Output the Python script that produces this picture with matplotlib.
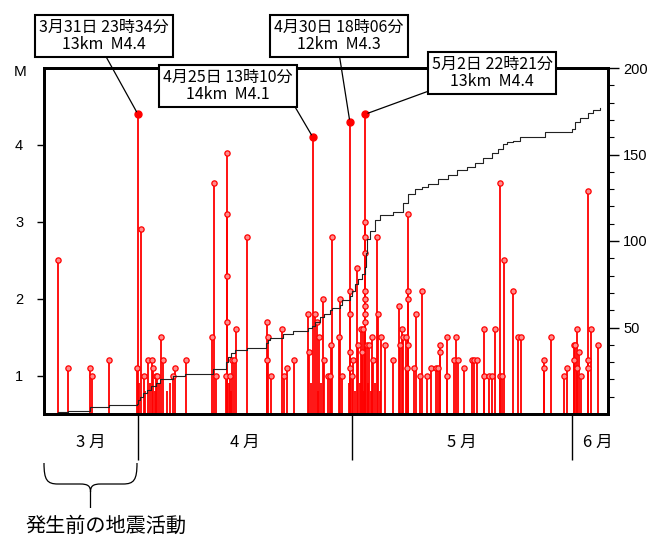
import numpy as np
import matplotlib.pyplot as plt
from matplotlib.path import Path
from matplotlib.patches import PathPatch

plt.rcParams['font.family'] = ['Liberation Sans', 'DejaVu Sans']
JP = ['Noto Sans CJK JP', 'DejaVu Sans']

# time axis: days counted from 3/1 00:00 (4/1 = 31, 5/1 = 61, 6/1 = 92)
ev_t = [19.81, 21.17, 24.26, 24.50, 26.88,
        30.86, 31.46, 31.88, 32.36, 32.92, 33.15, 33.53, 33.71, 34.19, 34.55, 35.96, 36.20, 37.70,
        41.44, 41.67, 41.96, 43.36, 43.50, 43.50, 43.50, 43.50, 43.92, 44.20, 44.44, 44.72, 46.27,
        49.08, 49.16, 49.30, 49.64, 51.27, 51.55, 51.97, 52.91, 54.83, 55.06, 55.82, 56.10, 56.42,
        56.94, 57.17, 57.73, 57.97, 58.11, 58.25, 59.19, 59.40, 59.61,
        60.75, 60.75, 60.75, 60.75, 61.01, 61.24, 61.72, 61.94, 62.28, 62.50, 62.64,
        62.93, 62.93, 62.93, 62.93, 62.93, 62.93, 62.93, 62.93, 63.12, 63.49, 63.82, 64.05, 64.53,
        64.75, 65.13, 65.69, 66.86,
        67.66, 67.80, 68.04, 68.26, 68.60, 68.74, 68.96, 68.96, 68.96, 68.96, 69.81, 70.04, 70.60,
        70.93, 71.55, 72.11, 72.81, 73.09, 73.35, 73.35, 74.36, 74.36, 75.42, 75.66, 75.99, 76.74,
        77.87, 78.24, 78.57, 79.55, 79.63, 80.34, 80.76, 81.14, 81.88, 81.88, 82.17, 82.45, 83.63,
        84.41, 84.79, 88.06, 88.06, 89.01, 90.87, 91.21, 92.24, 92.24, 92.42, 92.62, 92.62, 92.90,
        93.22, 94.24, 94.24, 94.24, 94.58, 95.65,
        # small shocks hidden in the dense part
        31.21, 32.05, 32.69, 33.35, 33.95, 35.07, 35.49, 43.71, 44.06, 55.30, 56.21, 56.70,
        60.63, 61.48, 62.11, 62.74, 63.30, 63.66, 64.29, 64.99]
ev_m = [2.5, 1.1, 1.1, 1.0, 1.2,
        1.1, 2.9, 1.0, 1.2, 1.2, 1.1, 1.0, 1.0, 1.5, 1.2, 1.0, 1.1, 1.2,
        1.5, 3.5, 1.0, 1.0, 3.9, 3.1, 2.3, 1.7, 1.0, 1.2, 1.2, 1.6, 2.8,
        1.7, 1.2, 1.5, 1.0, 1.6, 1.0, 1.1, 1.2, 1.8, 1.3, 1.8, 1.7, 1.5,
        2.0, 1.2, 1.0, 1.0, 1.4, 2.8, 1.5, 2.0, 1.0,
        2.1, 1.8, 1.3, 1.1, 1.0, 1.2, 2.4, 1.4, 1.6, 1.3, 1.6,
        3.0, 2.8, 2.6, 2.1, 2.0, 1.9, 1.8, 1.7, 1.4, 1.4, 1.5, 1.2, 2.8,
        1.8, 1.5, 1.4, 1.2,
        1.9, 1.4, 1.6, 1.5, 1.5, 1.1, 3.1, 2.1, 2.0, 1.4, 1.1, 1.8, 1.0,
        2.1, 1.0, 1.1, 1.1, 1.1, 1.4, 1.3, 1.5, 1.0, 1.2, 1.5, 1.2, 1.1,
        1.2, 1.2, 1.2, 1.6, 1.0, 1.0, 1.0, 1.6, 3.5, 1.0, 1.0, 2.5, 2.1,
        1.5, 1.5, 1.2, 1.1, 1.5, 1.0, 1.1, 1.4, 1.2, 1.4, 1.6, 1.1, 1.3,
        1.0, 3.4, 1.2, 1.1, 1.6, 1.4,
        0.9, 0.8, 0.9, 0.8, 0.9, 0.8, 0.9, 0.9, 0.8, 0.9, 0.8, 0.9,
        0.9, 0.8, 0.9, 0.8, 0.9, 0.8, 0.9, 0.8]

# labelled shocks
big_t = [30.98, 55.55, 60.75, 62.93]
big_m = [4.4, 4.1, 4.3, 4.4]
big_txt = ['3月31日 23時34分\n13km  M4.4',
           '4月25日 13時10分\n14km  M4.1',
           '4月30日 18時06分\n12km  M4.3',
           '5月2日 22時21分\n13km  M4.4']

# cumulative number of events (right axis)
cum_t = [19.76, 21.17, 24.26, 26.88, 30.86, 31.00, 31.28, 31.70, 32.26, 32.83, 33.53, 34.09,
         35.92, 37.60, 41.49, 43.36, 43.64, 44.00, 44.62, 46.27, 48.98, 49.26, 49.54, 51.37,
         52.77, 54.83, 55.44, 55.86, 56.56, 57.12, 57.97, 58.25, 59.37, 59.65, 60.84, 61.06,
         61.48, 61.90, 62.42, 62.88, 63.02, 63.16, 63.58, 64.29, 64.99, 66.81, 68.22, 68.92,
         69.90, 70.89, 71.73, 73.13, 74.54, 75.80, 77.21, 78.33, 79.46, 80.72, 81.56, 82.26,
         82.83, 83.67, 84.65, 88.16, 91.96, 92.38, 93.08, 94.20, 94.90, 95.89]
cum_n = [1, 2, 4, 5, 6, 8, 10, 12, 14, 16, 18, 20,
         22, 23, 26, 30, 33, 35, 37, 38, 41, 43, 44, 46,
         48, 50, 51, 53, 56, 58, 60, 61, 63, 66, 68, 71,
         75, 78, 81, 85, 93, 101, 106, 112, 115, 117, 122, 127,
         130, 131, 133, 136, 138, 141, 143, 145, 148, 151, 153, 156,
         157, 158, 160, 163, 165, 169, 171, 174, 176, 177]

month_edges = [31, 61, 92]
month_names = ['3 月', '4 月', '5 月', '6 月']
month_lbl_x = [24.4, 46.0, 76.5, 95.6]

W, H = 654, 539
fig = plt.figure(figsize=(W / 100, H / 100), dpi=100)
ax = fig.add_axes([44 / W, 1 - 414 / H, 564 / W, 346 / H])


def fx(x):
    return x / W


def fy(y):
    return 1 - y / H


ev_t = np.array(ev_t)
ev_m = np.array(ev_m)
ax.vlines(ev_t, 0.5, ev_m, color='red', lw=1.3, zorder=2)
ax.vlines(big_t, 0.5, big_m, color='red', lw=1.3, zorder=2)
vis = ev_m >= 1.0
ax.plot(ev_t[vis], ev_m[vis], 'o', ms=3.8, mfc='#ff8c8c', mec='red', mew=0.9, zorder=3)
ax.plot(big_t, big_m, 'o', ms=5, mfc='red', mec='red', zorder=3)

ax.set_xlim(17.8, 97.0)
ax.set_ylim(0.5, 5.0)
ax.set_xticks([])
ax.set_yticks([1, 2, 3, 4])
ax.tick_params(axis='y', direction='out', length=5, width=1, pad=10, labelsize=10.5)
for s in ax.spines.values():
    s.set_linewidth(2.0)

ax2 = ax.twinx()
ax2.plot(cum_t, cum_n, drawstyle='steps-post', color='#222222', lw=0.8)
ax2.set_ylim(0, 200)
ax2.set_yticks([50, 100, 150, 200])
ax2.set_yticks(np.arange(10, 200, 10), minor=True)
ax2.tick_params(axis='y', which='major', direction='out', length=8, width=1, pad=3, labelsize=10.5)
ax2.tick_params(axis='y', which='minor', direction='out', length=4, width=0.8)
for s in ax2.spines.values():
    s.set_linewidth(2.0)

fig.text(fx(20), fy(72), 'M', ha='center', va='center', fontsize=11)

# callout boxes
box_xy = [(104, 36), (228, 86), (339, 36), (492, 73)]
rel = [(0.5, 0), (1, 0), (0.5, 0), (0, 0)]
for t, m, txt, (bx, by), rp in zip(big_t, big_m, big_txt, box_xy, rel):
    ax2.annotate(txt, xy=(t, m), xycoords=ax.transData,
                 xytext=(fx(bx), fy(by)), textcoords='figure fraction',
                 ha='center', va='center', family=JP, fontsize=11.5, linespacing=1.0,
                 bbox=dict(boxstyle='square,pad=0.25', fc='white', ec='black', lw=1.5),
                 arrowprops=dict(arrowstyle='-', color='black', lw=0.9, relpos=rp,
                                 shrinkA=0, shrinkB=2),
                 annotation_clip=False, zorder=10)

# month dividers and labels below the axis
xt = ax.get_xaxis_transform()
ax.vlines(month_edges, -46 / 346, 0, transform=xt, color='black', lw=1.0, clip_on=False)
for x, name in zip(month_lbl_x, month_names):
    ax.text(x, -28 / 346, name, transform=xt, ha='center', va='center',
            family=JP, fontsize=12)

# brace under March
verts = [(44, 463), (44, 480), (47, 484), (58, 484),
         (80, 484), (88, 484), (90.5, 486), (90.5, 492),
         (90.5, 508),
         (90.5, 492), (90.5, 486), (93, 484), (101, 484),
         (123, 484), (134, 484), (137, 480), (137, 463)]
codes = [Path.MOVETO, Path.CURVE4, Path.CURVE4, Path.CURVE4,
         Path.LINETO, Path.CURVE4, Path.CURVE4, Path.CURVE4,
         Path.LINETO,
         Path.MOVETO, Path.CURVE4, Path.CURVE4, Path.CURVE4,
         Path.LINETO, Path.CURVE4, Path.CURVE4, Path.CURVE4]
verts = [(fx(x), fy(y)) for x, y in verts]
fig.patches.append(PathPatch(Path(verts, codes), transform=fig.transFigure,
                             fill=False, ec='black', lw=0.9))
fig.text(fx(106), fy(526), '発生前の地震活動', ha='center', va='center',
         family=JP, fontsize=14.5)

fig.savefig('out.png', dpi=100)
